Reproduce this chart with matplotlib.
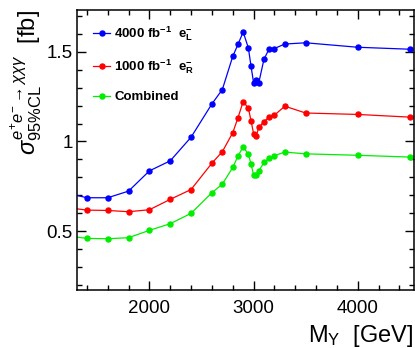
import matplotlib
matplotlib.use('Agg')
import matplotlib.pyplot as plt
from matplotlib.ticker import MultipleLocator, FormatStrFormatter

plt.rcParams['font.family'] = ['Liberation Sans', 'DejaVu Sans']
plt.rcParams['mathtext.fontset'] = 'custom'
plt.rcParams['mathtext.rm'] = 'Liberation Sans'
plt.rcParams['mathtext.it'] = 'Liberation Sans:italic'
plt.rcParams['mathtext.bf'] = 'Liberation Sans:bold'

# mediator mass points [GeV]
mass = [1200, 1400, 1600, 1800, 2000, 2200, 2400, 2600, 2700, 2800, 2850, 2900,
        2950, 2975, 3000, 3025, 3050, 3100, 3150, 3200, 3300, 3500, 4000, 4500]

# 95% CL cross section limits [fb]
sig_left = [0.713, 0.686, 0.686, 0.723, 0.836, 0.892, 1.024, 1.210, 1.290, 1.475,
            1.542, 1.611, 1.522, 1.422, 1.328, 1.342, 1.328, 1.460, 1.517, 1.519,
            1.544, 1.551, 1.526, 1.515]
sig_right = [0.632, 0.617, 0.615, 0.608, 0.619, 0.677, 0.732, 0.879, 0.943, 1.049,
             1.132, 1.223, 1.186, 1.117, 1.044, 1.030, 1.079, 1.111, 1.137, 1.147,
             1.197, 1.159, 1.151, 1.136]
sig_comb = [0.474, 0.459, 0.457, 0.463, 0.504, 0.541, 0.599, 0.714, 0.762, 0.855,
            0.918, 0.971, 0.928, 0.876, 0.814, 0.814, 0.836, 0.883, 0.908, 0.921,
            0.941, 0.931, 0.923, 0.913]

labels = [r'$\mathbf{4000\ fb^{-1}\ \ e^{-}_{L}}$',
          r'$\mathbf{1000\ fb^{-1}\ \ e^{-}_{R}}$',
          'Combined']
colors = ['#0000ff', '#ff0000', '#00ee00']

fig = plt.figure(figsize=(4.15, 3.48), dpi=100)
ax = fig.add_axes([77/415., 58/348., 336.5/415., 280/348.])

for y, c, lab in zip([sig_left, sig_right, sig_comb], colors, labels):
    ax.plot(mass, y, 'o-', color=c, lw=0.9, ms=3.6, label=lab)

ax.set_xlim(1305, 4535)
ax.set_ylim(0.171, 1.734)
ax.xaxis.set_major_locator(MultipleLocator(1000))
ax.xaxis.set_minor_locator(MultipleLocator(200))
ax.yaxis.set_major_locator(MultipleLocator(0.5))
ax.yaxis.set_minor_locator(MultipleLocator(0.1))
ax.yaxis.set_major_formatter(FormatStrFormatter('%g'))
ax.tick_params(which='both', direction='in', top=True, right=True, width=1.0)
ax.tick_params(which='major', length=6.5, labelsize=13.5)
ax.tick_params(axis='x', which='major', pad=7)
ax.tick_params(axis='y', which='major', pad=3)
ax.tick_params(which='minor', length=3.3)
for s in ax.spines.values():
    s.set_linewidth(1.1)

leg = ax.legend(loc='upper left', bbox_to_anchor=(93/415., 323.5/348.),
                bbox_transform=fig.transFigure, frameon=False,
                fontsize=9.5, labelspacing=1.1, handlelength=1.3,
                handletextpad=0.3, borderpad=0, borderaxespad=0)
for t in leg.get_texts():
    t.set_fontweight('bold')

fig.text(413/415., 6/348., r'M$_{\mathrm{Y}}$  [GeV]', ha='right', va='baseline', fontsize=17)
fig.text(26/415., 338/348.,
         r'$\sigma^{e^{+}e^{-}\rightarrow\chi\chi\gamma}_{95\%\mathrm{CL}}$  [fb]',
         rotation=90, ha='center', va='top', fontsize=17)

fig.savefig('out.png', dpi=100)
